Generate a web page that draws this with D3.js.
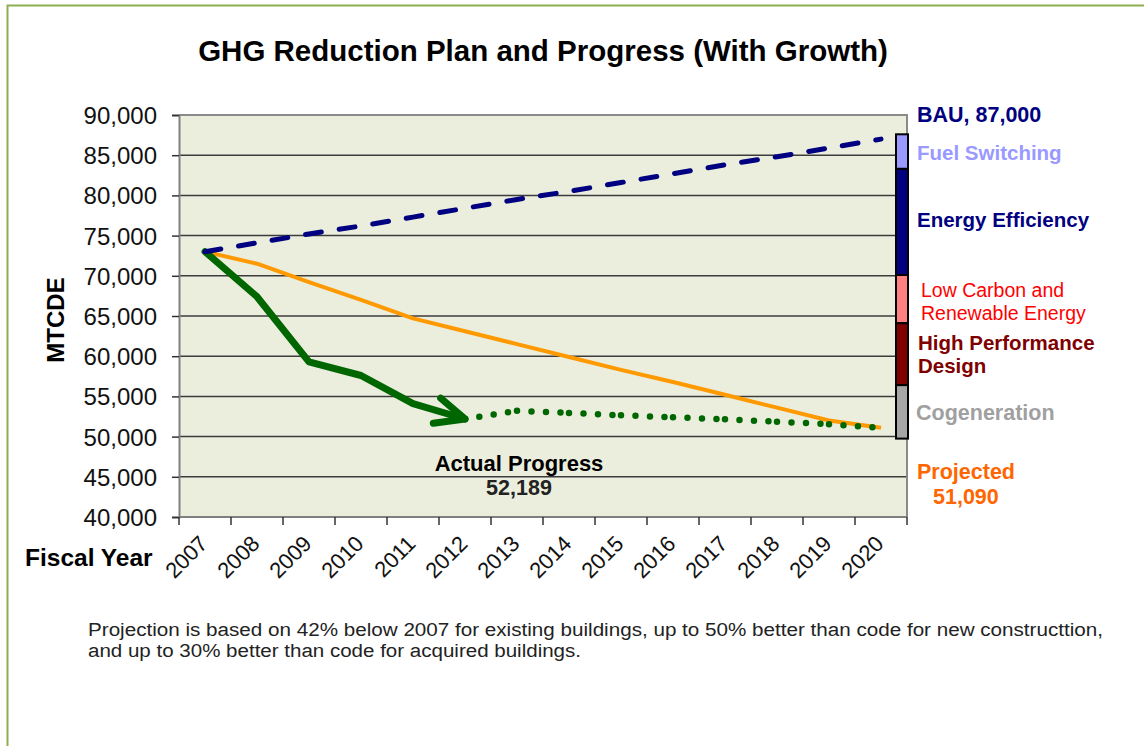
<!DOCTYPE html>
<html lang="en">
<head>
    <meta charset="UTF-8">
    <title>GHG Reduction Plan and Progress (With Growth)</title>
    <style>
        body {
            margin: 0;
            background: #fff;
            font-family: Arial, "Liberation Sans", sans-serif;
        }
        svg text {
            font-family: Arial, "Liberation Sans", sans-serif;
        }
        .grid {
            stroke: #3c3c3c;
            stroke-width: 1.5px;
        }
        .frame {
            fill: none;
            stroke: #8a8a8a;
            stroke-width: 2px;
        }
    </style>
</head>
<body>
    <div id="chart"></div>
    <script src="https://d3js.org/d3.v7.min.js"></script>
    <script>
        // fiscal years on the category axis
        const years = ["2007", "2008", "2009", "2010", "2011", "2012", "2013",
                       "2014", "2015", "2016", "2017", "2018", "2019", "2020"];

        // business as usual (dashed navy)
        const bau = [73000, 74100, 75200, 76200, 77300, 78400, 79500,
                     80500, 81600, 82700, 83800, 84800, 85900, 87000];

        // projected plan (orange)
        const projected = [73000, 71500, 69200, 67000, 64700, 63100, 61500,
                           59900, 58300, 56800, 55200, 53600, 52000, 51090];

        // actual progress 2007-2012 (solid green arrow)
        const actualYears = ["2007", "2008", "2009", "2010", "2011", "2012"];
        const actual = [73000, 67400, 59300, 57600, 54100, 52189];

        // expected path after 2012 (dotted green)
        const trendYears = ["2012", "2013", "2014", "2015", "2016", "2017", "2018", "2019", "2020"];
        const trend = [52189, 53200, 52950, 52650, 52400, 52150, 51850, 51550, 51100];

        // reduction wedges on the right-hand bar (top and bottom values)
        const wedges = ["Fuel Switching", "Energy Efficiency", "Low Carbon and Renewable Energy",
                        "High Performance Design", "Cogeneration"];
        const wedgeTop = [87600, 83300, 70100, 64100, 56400];
        const wedgeBottom = [83300, 70100, 64100, 56400, 49750];
        const wedgeColors = ["#9999ff", "#000080", "#ff8080", "#800000", "#a6a6a6"];

        const yTicks = [40000, 45000, 50000, 55000, 60000, 65000, 70000, 75000, 80000, 85000, 90000];

        const width = 1144;
        const height = 746;
        const plot = { left: 179, right: 907, top: 115, bottom: 517 };

        const svg = d3.select("#chart")
            .append("svg")
            .attr("width", width)
            .attr("height", height);

        // outer chart frame
        svg.append("rect")
            .attr("x", 7.5).attr("y", 5.5)
            .attr("width", 1150).attr("height", 760)
            .attr("fill", "#fff")
            .attr("stroke", "#8cb050")
            .attr("stroke-width", 2);

        const x = d3.scaleBand().domain(years).range([plot.left, plot.right]).padding(0);
        const y = d3.scaleLinear().domain([40000, 90000]).range([plot.bottom, plot.top]);
        const cx = d => x(d) + x.bandwidth() / 2;

        // plot background
        svg.append("rect")
            .attr("x", plot.left).attr("y", plot.top)
            .attr("width", plot.right - plot.left).attr("height", plot.bottom - plot.top)
            .attr("fill", "#ebeedd");

        // gridlines
        svg.selectAll(".grid")
            .data(yTicks.filter(t => t > 40000 && t < 90000))
            .enter()
            .append("line")
            .attr("class", "grid")
            .attr("x1", plot.left).attr("x2", plot.right)
            .attr("y1", d => y(d)).attr("y2", d => y(d));

        // top and right border of plot area
        svg.append("path")
            .attr("class", "frame")
            .attr("d", `M${plot.left},${plot.top}H${plot.right}V${plot.bottom}`);

        // y axis
        const yAxis = svg.append("g")
            .attr("transform", `translate(${plot.left},0)`)
            .call(d3.axisLeft(y).tickValues(yTicks).tickSize(7).tickPadding(15)
                .tickFormat(d3.format(",")));
        yAxis.select(".domain").attr("stroke", "#808080").attr("stroke-width", 2);
        yAxis.selectAll(".tick line").attr("stroke", "#333").attr("stroke-width", 1.5);
        yAxis.selectAll(".tick text")
            .attr("font-size", 24)
            .attr("fill", "#111")
            .attr("dy", "0.35em");

        // x axis: line, boundary ticks, rotated labels
        svg.append("line")
            .attr("x1", plot.left).attr("x2", plot.right)
            .attr("y1", plot.bottom).attr("y2", plot.bottom)
            .attr("stroke", "#808080").attr("stroke-width", 2);

        const bounds = years.map(d => x(d)).concat([plot.right]);
        svg.selectAll(".xtick")
            .data(bounds)
            .enter()
            .append("line")
            .attr("class", "xtick")
            .attr("x1", d => d).attr("x2", d => d)
            .attr("y1", plot.bottom).attr("y2", plot.bottom + 8)
            .attr("stroke", "#333").attr("stroke-width", 1.5);

        svg.selectAll(".xlabel")
            .data(years)
            .enter()
            .append("text")
            .attr("class", "xlabel")
            .attr("transform", d => `translate(${cx(d) + 4},${plot.bottom + 28}) rotate(-45)`)
            .attr("text-anchor", "end")
            .attr("font-size", 22)
            .attr("fill", "#111")
            .text(d => d);

        svg.append("text")
            .attr("x", 25).attr("y", 566)
            .attr("font-size", 24.5).attr("font-weight", "bold")
            .text("Fiscal Year");

        svg.append("text")
            .attr("transform", "translate(64,320) rotate(-90)")
            .attr("text-anchor", "middle")
            .attr("font-size", 24).attr("font-weight", "bold")
            .text("MTCDE");

        // title
        svg.append("text")
            .attr("x", 543).attr("y", 61)
            .attr("text-anchor", "middle")
            .attr("font-size", 29.5).attr("font-weight", "bold")
            .text("GHG Reduction Plan and Progress (With Growth)");

        // projected line
        const line = d3.line();
        svg.append("path")
            .attr("d", line(years.map((d, i) => [cx(d), y(projected[i])])))
            .attr("fill", "none")
            .attr("stroke", "#ff9900")
            .attr("stroke-width", 4)
            .attr("stroke-linejoin", "round");

        // dotted trend, one path per segment so the dot pattern restarts at each year
        const trendPts = trendYears.map((d, i) => [cx(d), y(trend[i])]);
        svg.selectAll(".trend")
            .data(d3.pairs(trendPts))
            .enter()
            .append("path")
            .attr("class", "trend")
            .attr("d", d => line(d))
            .attr("fill", "none")
            .attr("stroke", "#006600")
            .attr("stroke-width", 6.5)
            .attr("stroke-linecap", "round")
            .attr("stroke-dasharray", "0 14.5");

        // actual progress with open arrow head
        const actPts = actualYears.map((d, i) => [cx(d), y(actual[i])]);
        svg.append("path")
            .attr("d", line(actPts))
            .attr("fill", "none")
            .attr("stroke", "#006600")
            .attr("stroke-width", 7)
            .attr("stroke-linejoin", "round")
            .attr("stroke-linecap", "round");

        const tip = actPts[actPts.length - 1];
        const prev = actPts[actPts.length - 2];
        const ang = Math.atan2(tip[1] - prev[1], tip[0] - prev[0]) + Math.PI;
        const barb = 32, spread = 0.42;
        const b1 = [tip[0] + barb * Math.cos(ang - spread), tip[1] + barb * Math.sin(ang - spread)];
        const b2 = [tip[0] + barb * Math.cos(ang + spread), tip[1] + barb * Math.sin(ang + spread)];
        svg.append("path")
            .attr("d", line([b1, tip, b2]))
            .attr("fill", "none")
            .attr("stroke", "#006600")
            .attr("stroke-width", 7)
            .attr("stroke-linejoin", "round")
            .attr("stroke-linecap", "round");

        // BAU dashed line
        svg.append("path")
            .attr("d", line(years.map((d, i) => [cx(d), y(bau[i])])))
            .attr("fill", "none")
            .attr("stroke", "#000080")
            .attr("stroke-width", 5)
            .attr("stroke-linecap", "round")
            .attr("stroke-dasharray", "16 18");

        // stacked wedge bar
        svg.selectAll(".wedge")
            .data(wedges)
            .enter()
            .append("rect")
            .attr("class", "wedge")
            .attr("x", 896)
            .attr("width", 12)
            .attr("y", (d, i) => y(wedgeTop[i]))
            .attr("height", (d, i) => y(wedgeBottom[i]) - y(wedgeTop[i]))
            .attr("fill", (d, i) => wedgeColors[i])
            .attr("stroke", "#000")
            .attr("stroke-width", 2);

        // right-hand annotations
        const note = (tx, ty, txt, size, color, bold) => svg.append("text")
            .attr("x", tx).attr("y", ty)
            .attr("font-size", size)
            .attr("font-weight", bold ? "bold" : "normal")
            .attr("fill", color)
            .text(txt);

        note(917, 122, "BAU, 87,000", 21.5, "#000080", true);
        note(917, 160, wedges[0], 20.5, wedgeColors[0], true);
        note(917, 227, wedges[1], 20.5, wedgeColors[1], true);
        note(921, 297, "Low Carbon and", 19.5, "#ff0000", false);
        note(921, 319.5, "Renewable Energy", 19.5, "#ff0000", false);
        note(918, 349.5, "High Performance", 20.5, wedgeColors[3], true);
        note(918, 373, "Design", 20.5, wedgeColors[3], true);
        note(916, 419.5, wedges[4], 21.5, "#a0a0a0", true);
        note(917, 478.5, "Projected", 21.5, "#ff6600", true);
        note(933, 503.5, d3.format(",")(projected[projected.length - 1]), 21.5, "#ff6600", true);

        // actual progress annotation
        svg.append("text")
            .attr("x", 519).attr("y", 471)
            .attr("text-anchor", "middle")
            .attr("font-size", 22).attr("font-weight", "bold")
            .text("Actual Progress");
        svg.append("text")
            .attr("x", 519).attr("y", 495)
            .attr("text-anchor", "middle")
            .attr("font-size", 21.5).attr("font-weight", "bold")
            .attr("fill", "#222")
            .text(d3.format(",")(actual[actual.length - 1]));

        // footnote
        svg.append("text")
            .attr("x", 88).attr("y", 636)
            .attr("font-size", 18).attr("fill", "#222")
            .attr("textLength", 1015).attr("lengthAdjust", "spacingAndGlyphs")
            .text("Projection is based on 42% below 2007 for existing buildings, up to 50% better than code for new constructtion,");
        svg.append("text")
            .attr("x", 88).attr("y", 657)
            .attr("font-size", 18).attr("fill", "#222")
            .attr("textLength", 493).attr("lengthAdjust", "spacingAndGlyphs")
            .text("and up to 30% better than code for acquired buildings.");
    </script>
</body>
</html>
